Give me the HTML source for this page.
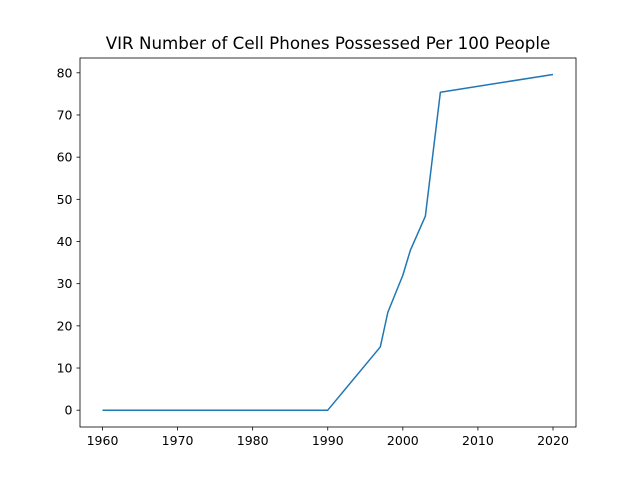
<!DOCTYPE html>
<html><head><meta charset="utf-8"><style>
html,body{margin:0;padding:0;background:#fff;}
svg{display:block;font-family:"DejaVu Sans","Liberation Sans",sans-serif;}
</style></head><body>
<svg id="chart" width="640" height="480" viewBox="0 0 640 480">
<rect width="640" height="480" fill="#fff"/>
<text x="328" y="49" text-anchor="middle" font-size="16.7">VIR Number of Cell Phones Possessed Per 100 People</text>
<g id="grid"></g>
<path id="series" fill="none" stroke="#1f77b4" stroke-width="1.5" stroke-linejoin="round"/>
<rect x="80" y="58" width="496" height="369" fill="none" stroke="#000" stroke-width="0.8"/>
</svg>
<script>
const years = [1960, 1990, 1997, 1998, 2000, 2001, 2003, 2005, 2020];
const values = [0, 0, 15, 23.2, 32, 37.9, 46, 75.4, 79.6];
const xTicks = [1960, 1970, 1980, 1990, 2000, 2010, 2020];
const yTicks = [0, 10, 20, 30, 40, 50, 60, 70, 80];

function xs(v){ return 102.5 + (v - 1960) * (553 - 102.5) / 60; }
function ys(v){ return 410.2 - v * (410.2 - 72.8) / 80; }

const NS = "http://www.w3.org/2000/svg";
const g = document.getElementById('grid');
function mk(tag, attrs, parent){
  const e = document.createElementNS(NS, tag);
  for (const k in attrs) e.setAttribute(k, attrs[k]);
  parent.appendChild(e);
  return e;
}
xTicks.forEach(t => {
  const x = xs(t);
  const l = mk('line', {x1:x, x2:x, y1:427, y2:430.5, stroke:'#000', 'stroke-width':0.8}, g);
  
  
  const tx = mk('text', {x:x, y:445, 'text-anchor':'middle', 'font-size':12.5}, g);
  tx.textContent = t;
  
  
});
yTicks.forEach(t => {
  const y = ys(t);
  const l = mk('line', {x1:76.5, x2:80, y1:y, y2:y, stroke:'#000', 'stroke-width':0.8}, g);
  
  
  const tx = mk('text', {x:72.5, y:y + 4.5, 'text-anchor':'end', 'font-size':12.5}, g);
  tx.textContent = t;
  
  
});
document.getElementById('series').setAttribute('d',
  years.map((yr, i) => (i ? 'L' : 'M') + xs(yr).toFixed(2) + ' ' + ys(values[i]).toFixed(2)).join(' '));
</script>
</body></html>
